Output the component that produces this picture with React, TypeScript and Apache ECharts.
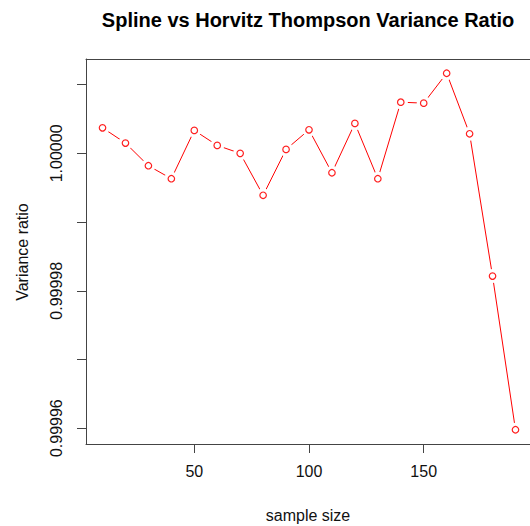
import React, { useEffect, useRef } from "react";
import * as echarts from "echarts";

const sampleSizes = [10, 20, 30, 40, 50, 60, 70, 80, 90, 100, 110, 120, 130, 140, 150, 160, 170, 180, 190];
const varianceRatio = [
  1.00000372, 1.0000015, 0.9999982, 0.99999631, 1.00000334, 1.00000116, 1.0, 0.9999939,
  1.00000058, 1.00000343, 0.99999718, 1.00000436, 0.99999631, 1.00000745, 1.00000731,
  1.00001166, 1.00000285, 0.99998214, 0.99995977,
];
const xTickLabels = [50, 100, 150];
const yTicks = [0.99996, 0.99997, 0.99998, 0.99999, 1.0, 1.00001];
const yTickLabels = [0.99996, 0.99998, 1.0];

const titleText = "Spline vs Horvitz Thompson Variance Ratio";
const xTitle = "sample size";
const yTitle = "Variance ratio";

export default function App() {
  const ref = useRef<HTMLDivElement>(null);
  useEffect(() => {
    if (!ref.current) return;
    const chart = echarts.init(ref.current, null, { renderer: "svg" });
    const pts = sampleSizes.map((x, i) => [x, varianceRatio[i]]);
    const xMin = Math.min(...sampleSizes);
    const xMax = Math.max(...sampleSizes);
    const yMin = Math.min(...varianceRatio);
    const yMax = Math.max(...varianceRatio);
    const xPad = (xMax - xMin) * 0.04;
    const yPad = (yMax - yMin) * 0.04;
    const font = "'Liberation Sans', Arial, sans-serif";
    const axisColor = "#444";
    chart.setOption({
      animation: false,
      backgroundColor: "#ffffff",
      textStyle: { fontFamily: font },
      grid: {
        left: 86,
        top: 59,
        width: 446,
        bottom: 82,
        show: false,
        containLabel: false,
        outerBoundsMode: "none",
      },
      xAxis: [
        {
          type: "value",
          min: xMin - xPad,
          max: xMax + xPad,
          axisLine: { show: true, onZero: false, lineStyle: { color: axisColor, width: 1 } },
          splitLine: { show: false },
          axisTick: {
            show: true,
            length: 9,
            lineStyle: { color: axisColor, width: 1 },
            customValues: xTickLabels,
          },
          axisLabel: {
            customValues: xTickLabels,
            color: "#111",
            fontSize: 16,
            fontFamily: font,
            margin: 19,
          },
        },
        {
          type: "value",
          position: "top",
          min: xMin - xPad,
          max: xMax + xPad,
          axisLine: { show: true, onZero: false, lineStyle: { color: axisColor, width: 1 } },
          splitLine: { show: false },
          axisTick: { show: false },
          axisLabel: { show: false },
        },
      ],
      yAxis: {
        type: "value",
        min: yMin - yPad,
        max: yMax + yPad,
        axisLine: { show: true, onZero: false, lineStyle: { color: axisColor, width: 1 } },
        splitLine: { show: false },
        axisTick: {
          show: true,
          length: 9,
          lineStyle: { color: axisColor, width: 1 },
          customValues: yTicks,
        },
        axisLabel: {
          customValues: yTickLabels,
          rotate: 90,
          color: "#111",
          fontSize: 16,
          fontFamily: font,
          margin: 22,
          formatter: (v: number) => v.toFixed(5),
        },
      },
      series: [
        {
          type: "line",
          data: pts,
          showSymbol: true,
          symbol: "circle",
          symbolSize: 14,
          itemStyle: { color: "#ffffff", borderWidth: 0 },
          lineStyle: { color: "#ff0000", width: 1 },
          z: 1,
          silent: true,
        },
        {
          type: "scatter",
          data: pts,
          symbol: "circle",
          symbolSize: 6.5,
          itemStyle: { color: "#ffffff", borderColor: "#ff2020", borderWidth: 1.2, opacity: 1 },
          z: 3,
        },
      ],
      graphic: [
        {
          type: "rect",
          z: 100,
          shape: { x: 526, y: 61, width: 4, height: 381 },
          style: { fill: "#ffffff" },
        },
        {
          type: "text",
          x: 308,
          y: 20,
          style: {
            text: titleText,
            fontSize: 20,
            fontWeight: "bold",
            fontFamily: font,
            fill: "#000",
            align: "center",
            verticalAlign: "middle",
          },
        },
        {
          type: "text",
          x: 308,
          y: 515,
          style: {
            text: xTitle,
            fontSize: 16,
            fontFamily: font,
            fill: "#111",
            align: "center",
            verticalAlign: "middle",
          },
        },
        {
          type: "text",
          x: 22,
          y: 252,
          rotation: Math.PI / 2,
          style: {
            text: yTitle,
            fontSize: 16,
            fontFamily: font,
            fill: "#111",
            align: "center",
            verticalAlign: "middle",
          },
        },
      ],
    });
    return () => chart.dispose();
  }, []);
  return <div ref={ref} style={{ width: 530, height: 526, position: "absolute", left: 0, top: 0 }} />;
}
